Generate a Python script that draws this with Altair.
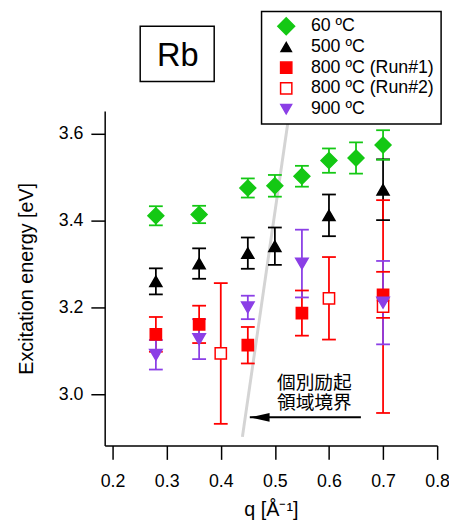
import altair as alt
import pandas as pd

# ---------------- data ----------------
names = ["60 ºC", "500 ºC", "800 ºC (Run#1)", "800 ºC (Run#2)", "900 ºC"]

s60_q = [0.28, 0.36, 0.45, 0.50, 0.55, 0.60, 0.65, 0.70]
s60_e = [3.411, 3.414, 3.475, 3.480, 3.502, 3.538, 3.544, 3.574]
s60_err = [0.022, 0.020, 0.022, 0.025, 0.024, 0.028, 0.036, 0.034]

s500_q = [0.28, 0.36, 0.45, 0.50, 0.60, 0.70]
s500_e = [3.260, 3.301, 3.325, 3.341, 3.412, 3.471]
s500_err = [0.030, 0.035, 0.036, 0.043, 0.048, 0.070]

s800a_q = [0.28, 0.36, 0.45, 0.55, 0.70]
s800a_e = [3.138, 3.161, 3.113, 3.187, 3.229]
s800a_err = [0.040, 0.043, 0.042, 0.052, 0.053]

s800b_q = [0.40, 0.60, 0.70]
s800b_e = [3.094, 3.221, 3.202]
s800b_err = [0.162, 0.095, 0.245]

s900_q = [0.28, 0.36, 0.45, 0.55, 0.70]
s900_e = [3.091, 3.127, 3.200, 3.301, 3.211]
s900_err = [0.034, 0.046, 0.027, 0.078, 0.096]

x_ticks = [0.2, 0.3, 0.4, 0.5, 0.6, 0.7, 0.8]
y_ticks = [3.0, 3.2, 3.4, 3.6]

boundary_q = [0.440, 0.5237]
boundary_e = [2.902, 3.623]

arrow_q = [0.659, 0.4537]
arrow_e = [2.947, 2.947]

note_lines = ["個別励起", "領域境界"]
note_q = [0.573]
note_e = [3.0114]

panel_label = "Rb"

# ---------------- styling ----------------
shapes = ["diamond", "triangle-up", "square", "square", "triangle-down"]
strokes = ["#14c814", "#000000", "#ff0000", "#ff0000", "#8b3fe6"]
fills = ["#14c814", "#000000", "#ff0000", "#ffffff", "#8b3fe6"]
sizes = [260, 150, 130, 130, 160]
legend_sizes = [290, 110, 130, 130, 120]

rows = []
for name, qs, es, errs in zip(
    names,
    [s60_q, s500_q, s800a_q, s800b_q, s900_q],
    [s60_e, s500_e, s800a_e, s800b_e, s900_e],
    [s60_err, s500_err, s800a_err, s800b_err, s900_err],
):
    for q, e, err in zip(qs, es, errs):
        rows.append({"series": name, "q": q, "e": e, "lo": e - err, "hi": e + err})
df = pd.DataFrame(rows)

bdf = pd.DataFrame({"q": boundary_q, "e": boundary_e})
adf = pd.DataFrame({"q": [arrow_q[0]], "q2": [arrow_q[1]], "e": [arrow_e[0]]})
hdf = pd.DataFrame({"q": [arrow_q[1]], "e": [arrow_e[1]]})
ndf = pd.DataFrame({"q": note_q, "e": note_e, "t": ["\n".join(note_lines)]})
rbdf = pd.DataFrame({"t": [panel_label]})

xs = alt.Scale(domain=[0.1854, 0.8], nice=False, zero=False)
ys = alt.Scale(domain=[2.882, 3.652], nice=False, zero=False)

X = alt.X("q:Q", scale=xs, title="q [Å⁻¹]",
          axis=alt.Axis(values=x_ticks, format=".1f", labelPadding=14, titlePadding=9,
                        labelFlush=False, labelOverlap=False))
Y = alt.Y("e:Q", scale=ys, title="Excitation energy [eV]",
          axis=alt.Axis(values=y_ticks, format=".1f", labelPadding=8, titlePadding=22,
                        labelFlush=False, labelOverlap=False))

col = alt.Color("series:N", scale=alt.Scale(domain=names, range=strokes), legend=None)

boundary = alt.Chart(bdf).mark_line(color="#d4d4d4", strokeWidth=3).encode(x=X, y=Y)

bars = alt.Chart(df).mark_rule(strokeWidth=1.8).encode(
    x=X, y=alt.Y("lo:Q", scale=ys), y2="hi:Q", color=col)
caps_hi = alt.Chart(df).mark_tick(orient="horizontal", size=14, thickness=1.8, opacity=1).encode(
    x=X, y=alt.Y("hi:Q", scale=ys), color=col)
caps_lo = alt.Chart(df).mark_tick(orient="horizontal", size=14, thickness=1.8, opacity=1).encode(
    x=X, y=alt.Y("lo:Q", scale=ys), color=col)

points = alt.Chart(df).mark_point(opacity=1, strokeWidth=1.5).encode(
    x=X, y=Y,
    shape=alt.Shape("series:N", scale=alt.Scale(domain=names, range=shapes), legend=None),
    fill=alt.Fill("series:N", scale=alt.Scale(domain=names, range=fills), legend=None),
    stroke=alt.Stroke("series:N", scale=alt.Scale(domain=names, range=strokes), legend=None),
    size=alt.Size("series:N", scale=alt.Scale(type="ordinal", domain=names, range=sizes), legend=None),
)

shaft = alt.Chart(adf).mark_rule(color="black", strokeWidth=2).encode(
    x=X, x2="q2:Q", y=Y)
head = alt.Chart(hdf).mark_point(shape="M0,0L1,-0.225L1,0.225Z", size=1600, filled=True,
                                 color="black", opacity=1).encode(x=X, y=Y)

note = alt.Chart(ndf).mark_text(font="Noto Sans CJK JP", fontSize=19, color="black",
                                baseline="alphabetic", align="center", lineBreak="\n",
                                lineHeight=20).encode(x=X, y=Y, text="t:N")

# ---- panel label box ----
rb_box = alt.Chart(rbdf).mark_rect(fill="white", stroke="black", strokeWidth=1.5).encode(
    x=alt.value(36), x2=alt.value(111), y=alt.value(-86), y2=alt.value(-30))
rb_text = alt.Chart(rbdf).mark_text(fontSize=33, font="Liberation Sans", color="black",
                                    align="center", baseline="alphabetic").encode(
    x=alt.value(74), y=alt.value(-46), text="t:N")

# ---- legend (drawn as a framed box in the top-right corner) ----
leg_left, leg_right, leg_top, leg_bottom = 159, 341, -101, 13
leg_sym_x, leg_text_x, leg_first_y, leg_step = 184, 209, -86, 21

leg_layers = [
    alt.Chart(rbdf).mark_rect(fill="white", stroke="black", strokeWidth=1.5).encode(
        x=alt.value(leg_left), x2=alt.value(leg_right),
        y=alt.value(leg_top), y2=alt.value(leg_bottom))
]
for i, (name, shp, fc, sc, sz) in enumerate(zip(names, shapes, fills, strokes, legend_sizes)):
    ldf = pd.DataFrame({"t": [name]})
    yy = leg_first_y + i * leg_step
    leg_layers.append(
        alt.Chart(ldf).mark_point(shape=shp, fill=fc, stroke=sc, size=sz, strokeWidth=1.5,
                                  opacity=1, filled=False).encode(
            x=alt.value(leg_sym_x), y=alt.value(yy)))
    leg_layers.append(
        alt.Chart(ldf).mark_text(fontSize=18, font="Liberation Sans", color="black",
                                 align="left", baseline="middle").encode(
            x=alt.value(leg_text_x), y=alt.value(yy), text="t:N"))

chart = alt.layer(boundary, bars, caps_hi, caps_lo, points, shaft, head, note,
                  rb_box, rb_text, *leg_layers).properties(
    width=337, height=339,
    autosize=alt.AutoSizeParams(type="none"),
    padding={"left": 98, "top": 101, "right": 12, "bottom": 76},
).configure(font="Liberation Sans").configure_view(stroke=None).configure_axis(
    domainColor="black", domainWidth=1.5, tickColor="black", tickWidth=1.5, tickSize=14,
    labelFontSize=18, labelColor="black", labelFont="Liberation Sans",
    titleFontSize=20, titleFontWeight="normal", titleColor="black", titleFont="Liberation Sans",
    grid=False,
)

chart.save("out.html", embed_options={"renderer": "svg", "actions": False})
